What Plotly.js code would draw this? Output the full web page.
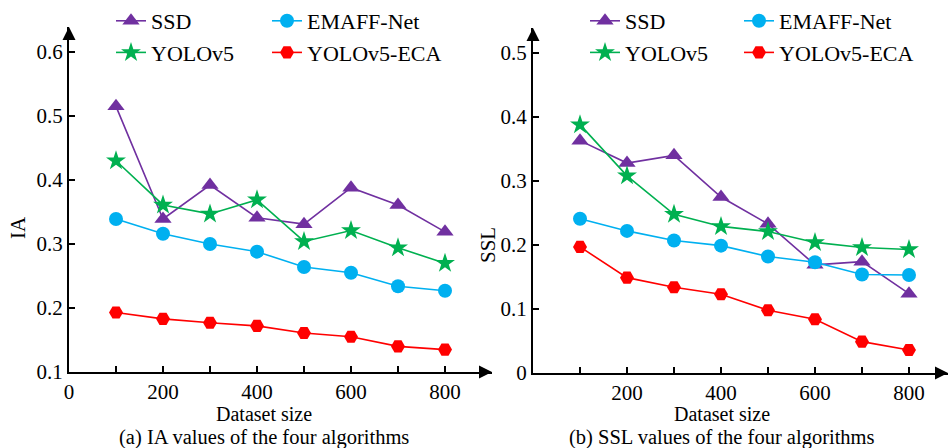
<!DOCTYPE html>
<html>
<head>
<meta charset="utf-8">
<script src="https://cdn.plot.ly/plotly-3.0.1.min.js"></script>
<style>html,body{margin:0;padding:0;background:#fff;}#chart{width:949px;height:448px;}</style>
</head>
<body>
<div id="chart"></div>
<script>
// ---- data ----
const datasetSizes = [100, 200, 300, 400, 500, 600, 700, 800];
const seriesNames = ["SSD", "YOLOv5", "EMAFF-Net", "YOLOv5-ECA"];

const iaSSD   = [0.515, 0.339, 0.392, 0.341, 0.331, 0.388, 0.361, 0.319];
const iaYOLO  = [0.430, 0.361, 0.347, 0.369, 0.304, 0.321, 0.294, 0.270];
const iaEMAFF = [0.339, 0.316, 0.300, 0.288, 0.264, 0.255, 0.234, 0.227];
const iaECA   = [0.193, 0.183, 0.177, 0.172, 0.161, 0.155, 0.140, 0.135];

const sslSSD   = [0.363, 0.328, 0.340, 0.275, 0.233, 0.169, 0.174, 0.124];
const sslYOLO  = [0.388, 0.308, 0.248, 0.229, 0.221, 0.204, 0.196, 0.193];
const sslEMAFF = [0.241, 0.222, 0.207, 0.199, 0.182, 0.173, 0.154, 0.153];
const sslECA   = [0.197, 0.149, 0.134, 0.123, 0.098, 0.084, 0.049, 0.036];

const xTickVals = [0, 100, 200, 300, 400, 500, 600, 700, 800];
const xTickTextA = ["0", "", "200", "", "400", "", "600", "", "800"];
const xTickTextB = ["", "", "200", "", "400", "", "600", "", "800"];
const yTicksA = [0.1, 0.2, 0.3, 0.4, 0.5, 0.6];
const yTicksB = [0, 0.1, 0.2, 0.3, 0.4, 0.5];

const xTitle = "Dataset size";
const yTitleA = "IA";
const yTitleB = "SSL";
const captionA = "(a) IA values of the four algorithms";
const captionB = "(b) SSL values of the four algorithms";

// ---- styles ----
const W = 949, H = 448;
const FONT = "Liberation Serif";
const styles = {
  "SSD":        {color: "#7030A0", symbol: "triangle-up", size: 15},
  "YOLOv5":     {color: "#00B050", symbol: "star", size: 15},
  "EMAFF-Net":  {color: "#00B0F0", symbol: "circle", size: 14},
  "YOLOv5-ECA": {color: "#FF0000", symbol: "hexagon2", size: 14}
};
function px(x) { return x / W; }
function py(y) { return 1 - y / H; }
function f(size) { return {family: FONT, size: size, color: "#000"}; }

function trace(name, y, xa, ya, legend) {
  const s = styles[name];
  return {
    type: "scatter", mode: "lines+markers", name: name,
    x: datasetSizes, y: y, xaxis: xa, yaxis: ya, legend: legend,
    line: {color: s.color, width: 1.6},
    marker: {color: s.color, symbol: s.symbol, size: s.size, line: {width: 0}},
    cliponaxis: false
  };
}

const data = [
  trace("SSD", iaSSD, "x", "y", "legend"),
  trace("YOLOv5", iaYOLO, "x", "y", "legend"),
  trace("EMAFF-Net", iaEMAFF, "x", "y", "legend2"),
  trace("YOLOv5-ECA", iaECA, "x", "y", "legend2"),
  trace("SSD", sslSSD, "x2", "y2", "legend3"),
  trace("YOLOv5", sslYOLO, "x2", "y2", "legend3"),
  trace("EMAFF-Net", sslEMAFF, "x2", "y2", "legend4"),
  trace("YOLOv5-ECA", sslECA, "x2", "y2", "legend4")
];

const baseAxis = {
  showgrid: false, zeroline: false, showline: true, linecolor: "#000", linewidth: 2,
  ticks: "inside", ticklen: 6, tickwidth: 1.5, tickcolor: "#000",
  tickfont: f(21),
  fixedrange: true
};

function legendDef(x) {
  return {
    x: x, y: 1, xref: "paper", yref: "paper", xanchor: "left", yanchor: "top",
    bgcolor: "rgba(0,0,0,0)", borderwidth: 0, orientation: "v",
    font: f(22), tracegroupgap: 0, itemwidth: 30
  };
}

function arrow(xref, yref, x, y, ax, ay) {
  return {xref: xref, yref: yref, x: x, y: y, ax: ax, ay: ay, axref: "pixel", ayref: "pixel",
    text: "", showarrow: true, arrowhead: 2, arrowsize: 1.3, arrowwidth: 2, arrowcolor: "#000"};
}
function label(text, x, y, angle, size) {
  return {xref: "paper", yref: "paper", x: px(x), y: py(y), xanchor: "center", yanchor: "middle",
    text: text, showarrow: false, textangle: angle || 0, font: f(size || 21)};
}

const layout = {
  width: W, height: H,
  margin: {l: 0, r: 0, t: 0, b: 0},
  paper_bgcolor: "#fff", plot_bgcolor: "rgba(0,0,0,0)",
  font: f(21),
  showlegend: true,
  xaxis: Object.assign({}, baseAxis, {
    domain: [px(69), px(492)], range: [0, 900], anchor: "y",
    tickmode: "array", tickvals: xTickVals, ticktext: xTickTextA
  }),
  yaxis: Object.assign({}, baseAxis, {
    domain: [py(372), py(27)], range: [0.1, 0.639], anchor: "x",
    tickmode: "array", tickvals: yTicksA, ticktext: yTicksA.map(v => v.toFixed(1))
  }),
  xaxis2: Object.assign({}, baseAxis, {
    domain: [px(533), px(948)], range: [0, 883], anchor: "y2",
    tickmode: "array", tickvals: xTickVals, ticktext: xTickTextB
  }),
  yaxis2: Object.assign({}, baseAxis, {
    domain: [py(373), py(28)], range: [0, 0.539], anchor: "x2",
    tickmode: "array", tickvals: yTicksB, ticktext: yTicksB.map(v => v === 0 ? "0" : v.toFixed(1))
  }),
  legend: legendDef(px(111)),
  legend2: legendDef(px(267)),
  legend3: legendDef(px(585)),
  legend4: legendDef(px(739)),
  annotations: [
    arrow("x", "y", 900, 0.1, -14, 0),
    arrow("x", "y", 0, 0.639, 0, 14),
    arrow("x2", "y2", 883, 0, -14, 0),
    arrow("x2", "y2", 0, 0.539, 0, 14),
    label(xTitle, 264, 414, 0, 20),
    label(xTitle, 722, 414, 0, 20),
    label(yTitleA, 18, 228, -90),
    label(yTitleB, 488, 245, -90),
    label(captionA, 264, 437.5, 0, 20.5),
    label(captionB, 722, 437.5, 0, 20.5)
  ]
};

Plotly.newPlot("chart", data, layout, {displayModeBar: false, staticPlot: true});
</script>
</body>
</html>
